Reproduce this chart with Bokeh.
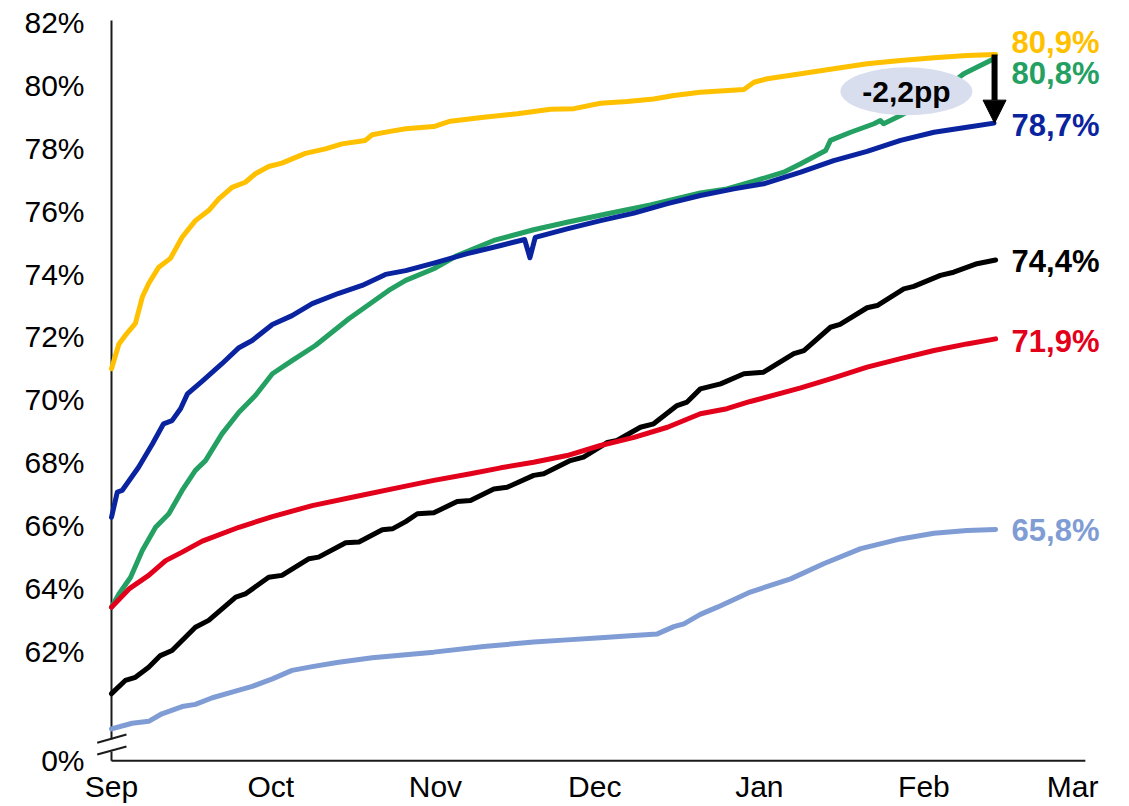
from bokeh.plotting import figure
from bokeh.models import FixedTicker, Arrow, NormalHead
from bokeh.core.properties import value
from bokeh.embed import file_html
from bokeh.resources import INLINE

# ---------------- data (x = days since 1 Sep, y = percent) ----------------
month_days = [0, 30, 61, 91, 122, 153, 181]
month_labels = ["Sep", "Oct", "Nov", "Dec", "Jan", "Feb", "Mar"]

y_tick_values = [58.53, 62, 64, 66, 68, 70, 72, 74, 76, 78, 80, 82]
y_tick_labels = ["0%", "62%", "64%", "66%", "68%", "70%", "72%", "74%", "76%", "78%", "80%", "82%"]

yellow_day = [0, 1.4, 2.6, 4.5, 5.8, 7.0, 8.9, 11.1, 13.3, 15.8, 18.3, 20.2, 22.7, 25.2, 27.1, 29.6,
              32.1, 36.5, 40.3, 43.4, 47.8, 49.1, 52.2, 55.4, 60.7, 63.8, 70.1, 76.4, 82.7, 87.1,
              92.1, 97.1, 102.1, 105.9, 110.9, 119.1, 121.0, 123.5, 129.8, 136.0, 142.3, 148.6,
              154.9, 161.1, 166.5]
yellow_pct = [70.99, 71.78, 72.05, 72.43, 73.27, 73.70, 74.22, 74.50, 75.17, 75.70, 76.02, 76.39,
              76.76, 76.92, 77.19, 77.42, 77.53, 77.84, 77.98, 78.14, 78.25, 78.43, 78.53, 78.62,
              78.69, 78.86, 78.99, 79.10, 79.24, 79.26, 79.43, 79.49, 79.57, 79.68, 79.78, 79.87,
              80.10, 80.21, 80.37, 80.53, 80.69, 80.79, 80.88, 80.95, 80.98]

green_day = [0, 1.4, 3.6, 5.8, 8.3, 10.8, 13.3, 15.8, 17.7, 20.8, 24.0, 27.1, 30.3, 34.0, 38.4,
             44.7, 52.2, 55.4, 60.7, 65.1, 72.0, 79.5, 85.8, 93.4, 101.5, 110.9, 115.9, 120.3,
             126.6, 129.8, 134.5, 135.4, 139.2, 143.6, 144.8, 145.4, 148.6, 154.9, 160.5, 166.2]
green_pct = [63.41, 63.83, 64.36, 65.21, 65.95, 66.38, 67.12, 67.76, 68.07, 68.92, 69.61, 70.14,
             70.83, 71.25, 71.73, 72.58, 73.48, 73.80, 74.17, 74.59, 75.07, 75.41, 75.65, 75.92,
             76.20, 76.58, 76.71, 76.92, 77.24, 77.51, 77.93, 78.25, 78.51, 78.78, 78.88, 78.78,
             79.04, 79.62, 80.37, 80.85]

blue_day = [0, 1.1, 2.0, 5.1, 7.7, 9.8, 11.4, 13.0, 14.3, 17.1, 20.8, 24.0, 26.5, 30.3, 34.0,
            37.8, 42.8, 47.2, 51.6, 55.4, 60.7, 67.0, 73.3, 77.8, 78.8, 79.8, 85.8, 92.1, 98.4,
            104.7, 110.9, 117.2, 122.8, 129.8, 136.0, 142.3, 148.6, 154.9, 161.1, 166.2]
blue_pct = [66.27, 67.07, 67.12, 67.86, 68.60, 69.24, 69.34, 69.72, 70.19, 70.60, 71.15, 71.66,
            71.89, 72.40, 72.68, 73.06, 73.39, 73.64, 73.99, 74.11, 74.35, 74.65, 74.91, 75.10,
            74.52, 75.17, 75.44, 75.70, 75.94, 76.24, 76.50, 76.71, 76.87, 77.24, 77.61, 77.90,
            78.25, 78.51, 78.67, 78.80]

black_day = [0, 2.6, 4.5, 7.0, 9.2, 11.4, 15.8, 18.3, 23.4, 25.2, 29.6, 32.1, 37.2, 39.0, 44.1,
             46.6, 51.0, 52.9, 55.4, 57.6, 60.7, 65.1, 67.6, 72.0, 74.5, 79.5, 81.4, 86.4, 88.9,
             93.4, 95.2, 99.6, 102.1, 106.5, 108.4, 110.9, 114.7, 119.1, 122.8, 128.5, 130.4,
             135.4, 137.2, 142.3, 144.2, 149.2, 151.1, 156.1, 158.6, 163.0, 166.5]
black_pct = [60.66, 61.08, 61.18, 61.50, 61.87, 62.03, 62.77, 62.99, 63.73, 63.83, 64.36, 64.42,
             64.95, 65.00, 65.46, 65.48, 65.87, 65.90, 66.13, 66.38, 66.41, 66.77, 66.80, 67.17,
             67.22, 67.60, 67.65, 68.07, 68.18, 68.65, 68.71, 69.13, 69.24, 69.82, 69.93, 70.35,
             70.51, 70.83, 70.88, 71.47, 71.57, 72.31, 72.40, 72.93, 73.00, 73.53, 73.61, 73.96,
             74.06, 74.33, 74.45]

red_day = [0, 3.3, 7.0, 10.2, 13.3, 17.1, 24.0, 30.3, 37.8, 46.0, 55.4, 60.7, 67.6, 73.3, 79.5,
           85.8, 92.1, 98.4, 104.7, 110.9, 115.9, 120.3, 129.8, 136.0, 142.3, 148.6, 154.9,
           161.1, 166.5]
red_pct = [63.41, 63.99, 64.42, 64.89, 65.16, 65.51, 65.95, 66.29, 66.64, 66.93, 67.26, 67.44,
           67.65, 67.84, 68.02, 68.23, 68.55, 68.81, 69.13, 69.56, 69.72, 69.95, 70.38, 70.70,
           71.04, 71.31, 71.57, 71.78, 71.94]

lightblue_day = [0, 3.9, 7.0, 9.5, 13.3, 15.8, 19.0, 22.7, 26.5, 30.3, 34.0, 37.8, 42.8, 49.1,
                 55.4, 60.7, 70.1, 79.5, 85.8, 92.1, 98.4, 102.8, 105.9, 107.8, 110.9, 114.1,
                 120.3, 127.9, 134.1, 141.1, 148.6, 154.9, 161.1, 166.5]
lightblue_pct = [59.54, 59.72, 59.78, 60.02, 60.25, 60.32, 60.53, 60.71, 60.89, 61.13, 61.40,
                 61.52, 61.66, 61.80, 61.90, 61.98, 62.16, 62.30, 62.37, 62.44, 62.51, 62.56,
                 62.79, 62.88, 63.18, 63.41, 63.89, 64.31, 64.79, 65.27, 65.58, 65.76, 65.85,
                 65.88]

end_labels = ["80,9%", "80,8%", "78,7%", "74,4%", "71,9%", "65,8%"]
gap_label = "-2,2pp"

# ---------------- styling ----------------
FONT = "Liberation Sans"
YELLOW, GREEN, BLUE, BLACK, RED, LBLUE = "#FFC000", "#23A062", "#0A24A0", "#000000", "#E3001B", "#7F9CD4"

series = [
    (yellow_day, yellow_pct, YELLOW, end_labels[0], -12),
    (green_day, green_pct, GREEN, end_labels[1], 15),
    (blue_day, blue_pct, BLUE, end_labels[2], 2),
    (black_day, black_pct, BLACK, end_labels[3], 2),
    (red_day, red_pct, RED, end_labels[4], 3),
    (lightblue_day, lightblue_pct, LBLUE, end_labels[5], 1),
]

p = figure(frame_width=1015, frame_height=748, x_range=(-3.013, 188.136), y_range=(58.471, 82.254),
           output_backend="svg", toolbar_location=None,
           min_border_left=95, min_border_right=4, min_border_top=14, min_border_bottom=4)
p.xgrid.visible = False
p.ygrid.visible = False
p.outline_line_color = None
p.background_fill_color = "white"
p.border_fill_color = "white"

p.xaxis.ticker = FixedTicker(ticks=month_days)
p.xaxis.major_label_overrides = {d: l for d, l in zip(month_days, month_labels)}
p.yaxis.ticker = FixedTicker(ticks=y_tick_values)
p.yaxis.major_label_overrides = {v: l for v, l in zip(y_tick_values, y_tick_labels)}
for ax in (p.xaxis, p.yaxis):
    ax.axis_line_color = None
    ax.major_tick_line_color = None
    ax.minor_tick_line_color = None
    ax.major_label_text_font = FONT
    ax.major_label_text_font_size = "30px"
    ax.major_label_text_color = "black"
p.xaxis.major_label_standoff = 1
p.yaxis.major_label_standoff = 5

# axes drawn manually (with the break on the y axis)
x0 = month_days[0]
y_base = y_tick_values[0]
p.segment(x0=[x0, x0, x0], y0=[82.06, 58.82, y_base], x1=[x0, x0, 183.4], y1=[59.20, y_base, y_base],
          line_color="#1a1a1a", line_width=2)
p.segment(x0=[-2.69, -2.69], y0=[59.10, 58.725], x1=[2.82, 2.82], y1=[59.36, 58.98],
          line_color="#1a1a1a", line_width=2)

for xs, ys, col, lab, dy in series:
    p.line(xs, ys, line_color=col, line_width=5, line_join="round", line_cap="round")

for xs, ys, col, lab, dy in series:
    p.text(x=[166.5], y=[ys[-1]], text=[lab], text_color=col, text_font=value(FONT),
           text_font_size="31px", text_font_style="bold", text_align="left",
           text_baseline="middle", x_offset=16, y_offset=dy)

# gap annotation
p.ellipse(x=[149.7], y=[79.81], width=[132], height=[48], width_units="screen",
          height_units="screen", fill_color="#D9DEEF", line_color=None)
p.text(x=[149.7], y=[79.81], text=[gap_label], text_color="black", text_font=value(FONT),
       text_font_size="30px", text_font_style="bold", text_align="center", text_baseline="middle")

p.add_layout(Arrow(end=NormalHead(size=23, fill_color="black", line_color="black"),
                   x_start=166.3, y_start=yellow_pct[-1], x_end=166.3, y_end=blue_pct[-1],
                   line_color="black", line_width=6))

open("out.html", "w").write(file_html(p, INLINE))
